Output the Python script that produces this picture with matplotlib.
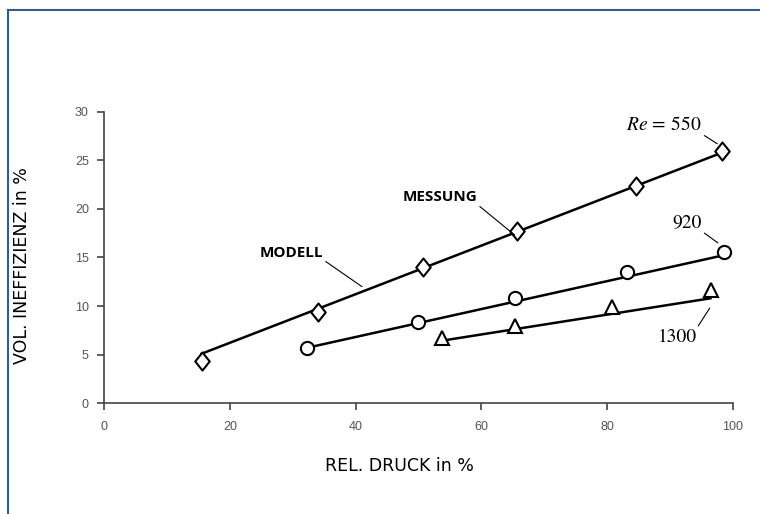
import matplotlib

matplotlib.use("Agg")

import matplotlib.pyplot as plt
from matplotlib.lines import Line2D
from matplotlib.path import Path

# measured points (MESSUNG)
re550_x = [15.5, 34.0, 50.7, 65.7, 84.6, 98.3]
re550_y = [4.4, 9.4, 14.0, 17.7, 22.4, 26.0]
re920_x = [32.2, 49.9, 65.3, 83.1, 98.6]
re920_y = [5.7, 8.4, 10.8, 13.5, 15.6]
re1300_x = [53.8, 65.3, 80.7, 96.5]
re1300_y = [6.7, 8.0, 9.9, 11.7]

# model lines (MODELL)
fit550_x = [15.5, 98.3]
fit550_y = [5.1, 25.8]
fit920_x = [32.2, 98.3]
fit920_y = [5.7, 15.2]
fit1300_x = [54.3, 96.4]
fit1300_y = [6.5, 10.8]

xticks = [0, 20, 40, 60, 80, 100]
yticks = [0, 5, 10, 15, 20, 25, 30]

plt.rcParams["mathtext.fontset"] = "stix"

# slightly narrow diamond
diamond = Path([(0, 1), (0.8, 0), (0, -1), (-0.8, 0), (0, 1)],
               [Path.MOVETO, Path.LINETO, Path.LINETO, Path.LINETO, Path.CLOSEPOLY])

fig = plt.figure(figsize=(7.6, 5.14), dpi=100)
ax = fig.add_axes([0.137, 0.2154, 0.8275, 0.5673])

lw = 1.8
ax.plot(fit550_x, fit550_y, color="black", lw=lw, zorder=2)
ax.plot(fit920_x, fit920_y, color="black", lw=lw, zorder=2)
ax.plot(fit1300_x, fit1300_y, color="black", lw=lw, zorder=2)

mk = dict(linestyle="none", mfc="white", mec="black", mew=1.5, zorder=3)
ax.plot(re550_x, re550_y, marker=diamond, ms=13, **mk)
ax.plot(re920_x, re920_y, marker="o", ms=9.5, **mk)
ax.plot(re1300_x, re1300_y, marker="^", ms=10, **mk)

ax.set_xlim(0, 100)
ax.set_ylim(0, 30)
ax.set_xticks(xticks)
ax.set_yticks(yticks)
for s in ("top", "right"):
    ax.spines[s].set_visible(False)
for s in ("left", "bottom"):
    ax.spines[s].set_color("#444444")
    ax.spines[s].set_linewidth(1.2)
ax.tick_params(direction="out", length=5, width=1.2, color="#444444",
               labelcolor="#555555", labelsize=9)
for lab in ax.get_xticklabels() + ax.get_yticklabels():
    lab.set_family(["Liberation Sans Narrow", "Liberation Sans"])
ax.tick_params(axis="x", pad=8)
ax.tick_params(axis="y", pad=6)

ax.set_xlabel("REL. DRUCK in %", fontsize=12.5, family="DejaVu Sans")
ax.set_ylabel("VOL. INEFFIZIENZ in %", fontsize=12.5, family="DejaVu Sans")
ax.xaxis.set_label_coords(0.47, -0.215)
ax.xaxis.label.set_va("center")
ax.yaxis.set_label_coords(-0.130, 0.471)
ax.yaxis.label.set_va("center")

# annotations
line_kw = dict(arrowstyle="-", lw=0.8, color="black", shrinkA=0, shrinkB=0)
ax.annotate("MODELL", xy=(41.0, 12.0), xytext=(34.8, 15.5), fontsize=11,
            fontweight="bold", family="Open Sans", ha="right", va="center",
            arrowprops=dict(relpos=(1.0, 0.0), **line_kw))
ax.annotate("MESSUNG", xy=(65.3, 17.3), xytext=(59.3, 21.2), fontsize=11,
            fontweight="bold", family="Open Sans", ha="right", va="center",
            arrowprops=dict(relpos=(1.0, 0.0), **line_kw))
ax.annotate(r"$Re\,=\,550$", xy=(97.5, 26.7), xytext=(95.0, 28.7), fontsize=14,
            ha="right", va="center",
            arrowprops=dict(relpos=(1.0, 0.0), **line_kw))
ax.annotate("920", xy=(97.6, 16.5), xytext=(95.0, 18.6), fontsize=14,
            family="STIXGeneral", ha="right", va="center",
            arrowprops=dict(relpos=(1.0, 0.0), **line_kw))
ax.annotate("1300", xy=(96.3, 9.8), xytext=(94.2, 6.8), fontsize=14,
            family="STIXGeneral", ha="right", va="center",
            arrowprops=dict(relpos=(1.0, 1.0), **line_kw))

# blue frame (left and top edges)
fc = "#2f5f8f"
fig.add_artist(Line2D([8 / 760, 8 / 760], [0, 1 - 10 / 514], color=fc, lw=1.5,
                      transform=fig.transFigure))
fig.add_artist(Line2D([8 / 760, 1], [1 - 10 / 514, 1 - 10 / 514], color=fc, lw=1.5,
                      transform=fig.transFigure))

fig.savefig("out.png", dpi=100)
